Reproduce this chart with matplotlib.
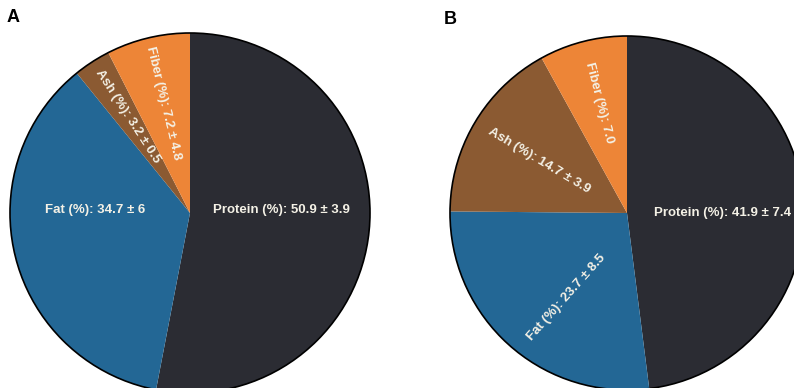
import matplotlib
matplotlib.use("Agg")
import matplotlib.pyplot as plt
import numpy as np
from matplotlib.patches import Circle

plt.rcParams['font.family'] = ['Liberation Sans', 'DejaVu Sans']

components = ["Protein", "Fat", "Ash", "Fiber"]
colors = ["#2b2c33", "#236795", "#8b5a32", "#ed8537"]

means_a = [50.9, 34.7, 3.2, 7.2]
sds_a = [3.9, 6, 0.5, 4.8]

means_b = [41.9, 23.7, 14.7, 7.0]
sds_b = [7.4, 8.5, 3.9, None]

W, H = 794, 388
fig = plt.figure(figsize=(W / 100, H / 100), dpi=100)
ax = fig.add_axes([0, 0, 1, 1])

# label placement per wedge: (radius fraction, angle offset from wedge middle, mode)
layout_a = [(0.51, 7.5, "h"), (0.53, -16, "h"), (0.64, 0, "r"), (0.63, 0, "r")]
layout_b = [(0.54, -3.6, "h"), (0.59, 6, "r"), (0.58, 0, "r"), (0.64, 0, "r")]


def label_text(name, mean, sd):
    s = f"{name} (%): {mean:.1f}"
    if sd is not None:
        s += f" \u00b1 {sd:g}"
    return s


def wrap180(a):
    return (a + 180.0) % 360.0 - 180.0


def draw_panel(cx, cy, r, means, sds, layout, letter, lx, ly):
    wedges, _ = ax.pie(means, colors=colors, startangle=90, counterclock=False,
                       center=(cx, cy), radius=r, frame=True,
                       wedgeprops=dict(linewidth=0))
    ax.add_patch(Circle((cx, cy), r, fill=False, edgecolor="black", linewidth=1.2))
    for w, name, m, sd, (rf, doff, mode) in zip(wedges, components, means, sds, layout):
        mid = wrap180(0.5 * (w.theta1 + w.theta2))
        a = np.deg2rad(mid + doff)
        x = cx + rf * r * np.cos(a)
        y = cy + rf * r * np.sin(a)
        if mode == "h":
            rot = 0
        else:
            # radial text, kept upright
            rot = mid
            if rot > 90:
                rot -= 180
            elif rot < -90:
                rot += 180
        ax.text(x, y, label_text(name, m, sd), color="#f4f1e6", fontsize=9.5,
                fontweight="bold", ha="center", va="center", rotation=rot,
                rotation_mode="anchor")
    ax.text(lx, ly, letter, fontsize=13, fontweight="bold", ha="left",
            va="center", color="black")


draw_panel(190, H - 213, 180, means_a, sds_a, layout_a, "A", 7, H - 18)
draw_panel(627, H - 213, 177, means_b, sds_b, layout_b, "B", 444, H - 19)

ax.set_xlim(0, W)
ax.set_ylim(0, H)
ax.set_aspect("equal")
ax.axis("off")

fig.savefig("out.png", dpi=100)
